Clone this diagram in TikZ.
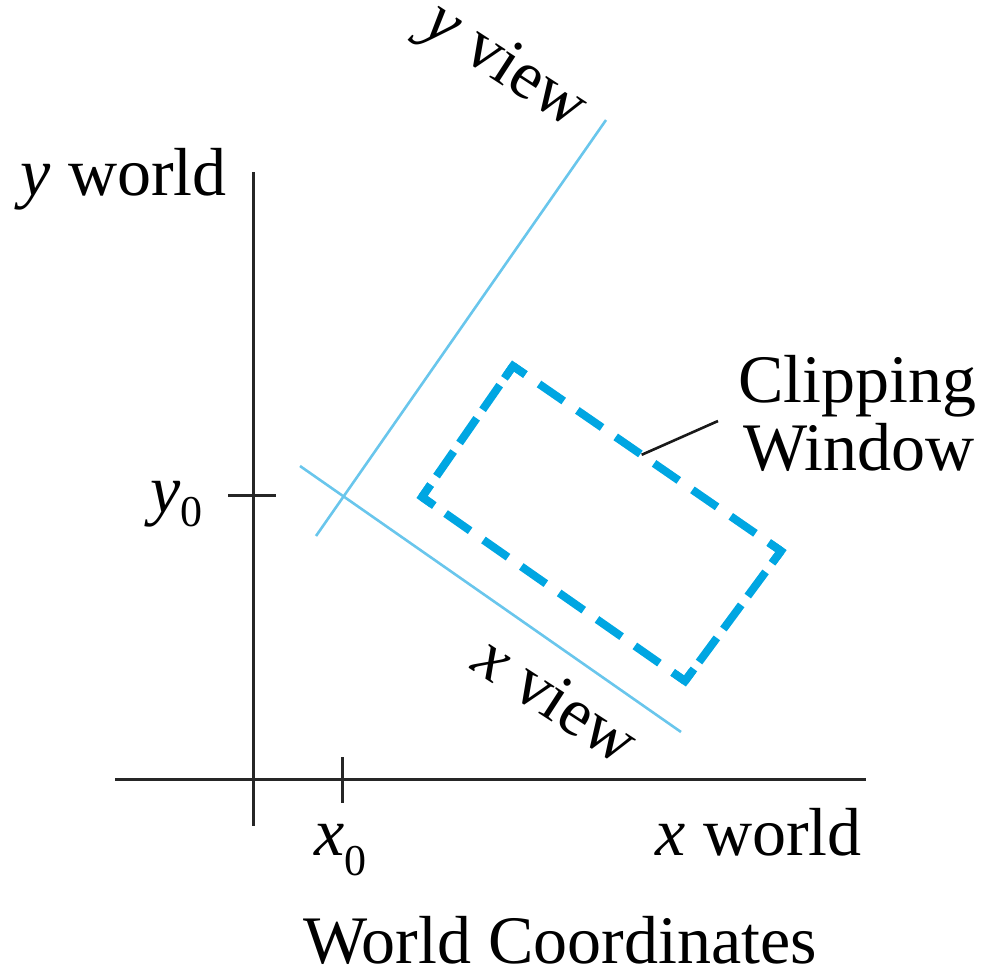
\documentclass[tikz,border=0pt]{standalone}
\usepackage{fontspec}
\setmainfont{Liberation Serif}
\usetikzlibrary{calc}
\definecolor{viewblue}{RGB}{105,198,236}
\definecolor{winblue}{RGB}{0,166,226}
\newcommand\lowsub[2]{\raisebox{-#1pt}{\fontsize{44}{44}\selectfont #2}}
\begin{document}
\begin{tikzpicture}[x=1pt,y=-1pt,
  axis/.style={draw=black!85,line width=3pt},
  viewline/.style={draw=viewblue,line width=2.6pt},
  winedge/.style={draw=winblue,line width=8pt},
  wincorner/.style={draw=winblue,line width=8pt,line join=miter},
  leader/.style={draw=black!90,line width=2.6pt},
  lbl/.style={inner sep=0pt,font=\fontsize{68}{70}\selectfont},
]
\useasboundingbox (0,0) rectangle (981,971);

% axes
\coordinate (ytop) at (253,172);
\coordinate (ybot) at (253,826);
\coordinate (xleft) at (115,779);
\coordinate (xright) at (866,779);
\draw[axis] (ytop) -- (ybot);
\draw[axis] (xleft) -- (xright);

% ticks
\coordinate (xtA) at (342,757);
\coordinate (xtB) at (342,803);
\coordinate (ytA) at (228,495);
\coordinate (ytB) at (276,495);
\draw[axis] (xtA) -- (xtB);
\draw[axis] (ytA) -- (ytB);

% view axes
\coordinate (yvA) at (316,536);
\coordinate (yvB) at (606,120);
\coordinate (xvA) at (300,466);
\coordinate (xvB) at (681,732);
\draw[viewline] (yvA) -- (yvB);
\draw[viewline] (xvA) -- (xvB);

% clipping window
\coordinate (T) at (513,366);
\coordinate (R) at (781,551);
\coordinate (B) at (685,681);
\coordinate (L) at (422,497);
\draw[winedge,dash pattern=on 30pt off 16.6pt,dash phase=15pt] (T) -- (R);
\draw[winedge,dash pattern=on 30pt off 11pt,dash phase=15pt] (R) -- (B);
\draw[winedge,dash pattern=on 30pt off 16.2pt,dash phase=15pt] (B) -- (L);
\draw[winedge,dash pattern=on 30pt off 10.4pt,dash phase=15pt] (L) -- (T);
\draw[wincorner] ($(T)!15pt!(L)$) -- (T) -- ($(T)!15pt!(R)$);
\draw[wincorner] ($(R)!15pt!(T)$) -- (R) -- ($(R)!15pt!(B)$);
\draw[wincorner] ($(B)!15pt!(R)$) -- (B) -- ($(B)!15pt!(L)$);
\draw[wincorner] ($(L)!15pt!(B)$) -- (L) -- ($(L)!15pt!(T)$);

% leader
\coordinate (leadA) at ($(T)!0.48!(R)$);
\coordinate (leadB) at (718,421);
\draw[leader] (leadA) -- (leadB);

% labels
\node[lbl,anchor=base west] (clip1) at (738,402) {Clipping};
\node[lbl,anchor=base west] (clip2) at (743,470) {Window};
\node[lbl,anchor=base east] (yworld) at (227,195) {\textit{y} world};
\node[lbl,anchor=base east] (xworld) at (862,855) {\textit{x} world};
\node[lbl,anchor=base east] (ylab) at (203,512) {\textit{y}\lowsub{14}{0}};
\node[lbl,anchor=base west] (xlab) at (314,855) {\textit{x}\lowsub{20}{0}};
\node[lbl,anchor=base] (title) at (560,963) {World Coordinates};
\node[lbl,rotate=-33] (yview) at (504,68) {\textit{y} view};
\node[lbl,rotate=-33] (xview) at (557,699) {\textit{x} view};
\end{tikzpicture}
\end{document}
